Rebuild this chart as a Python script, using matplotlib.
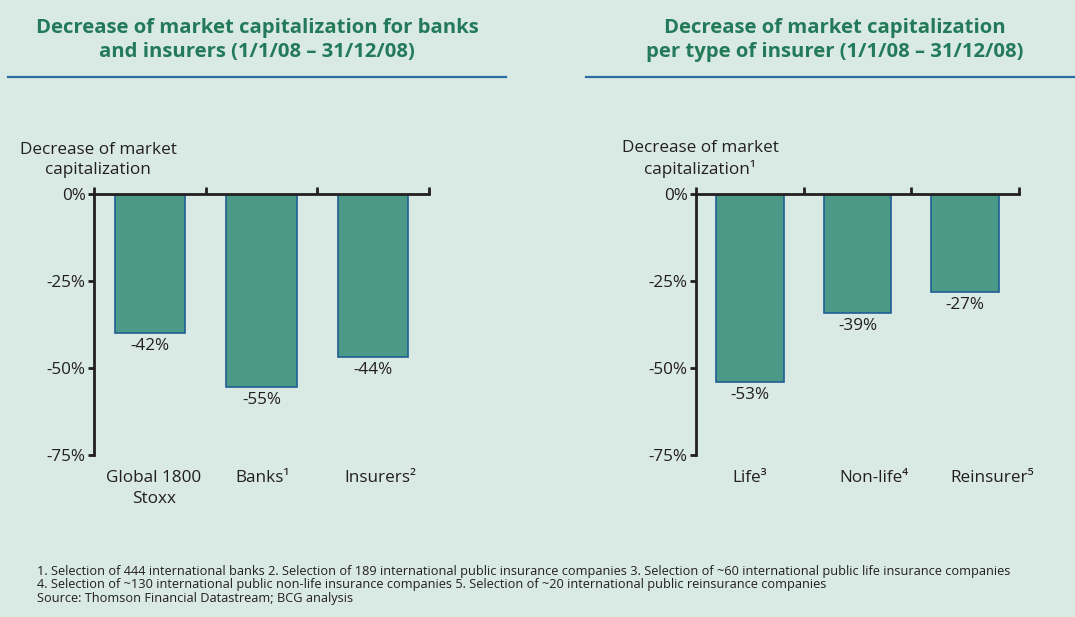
import matplotlib.pyplot as plt
import numpy as np

# data (bar lengths as drawn, labels as printed)
left_cats = ['Global 1800\nStoxx', 'Banks¹', 'Insurers²']
left_bars = [-39.9, -55.6, -46.8]
left_labels = [-42, -55, -44]

right_cats = ['Life³', 'Non-life⁴', 'Reinsurer⁵']
right_bars = [-54.0, -34.1, -28.1]
right_labels = [-53, -39, -27]

y_ticks = [0, -25, -50, -75]

BG = '#d9e9e3'
GREEN = '#237a5a'
BAR = '#4a9a87'
EDGE = '#1f5f94'
INK = '#231f20'
LINE = '#2b6ca3'
FONT = ['Open Sans', 'DejaVu Sans']
FS = 12.3

plt.rcParams['font.family'] = FONT
plt.rcParams['text.color'] = INK

W, H = 1075, 617
fig = plt.figure(figsize=(W / 100, H / 100), dpi=100, facecolor=BG)


def fx(x):
    return x / W


def fy(y):
    return 1 - y / H


def panel(x0, x1, cats, bars, labels, label_dx, ylabel, ylabel_x, title, title_x, line_x0, line_x1):
    ax = fig.add_axes([fx(x0), fy(455), fx(x1 - x0), (455 - 194) / H])
    ax.set_facecolor(BG)
    x = np.arange(len(cats))
    ax.bar(x, bars, width=0.63, color=BAR, edgecolor=EDGE, linewidth=1.2, zorder=2)
    ax.set_xlim(-0.5, len(cats) - 0.5)
    ax.set_ylim(-75, 0)
    for s in ['bottom', 'right']:
        ax.spines[s].set_visible(False)
    for s in ['left', 'top']:
        ax.spines[s].set_linewidth(2.0)
        ax.spines[s].set_color(INK)
        ax.spines[s].set_zorder(3)
    ax.set_yticks(y_ticks)
    ax.set_yticklabels([f'{v}%' for v in y_ticks], fontsize=FS, color=INK)
    ax.tick_params(axis='y', direction='out', length=4, width=2, color=INK, pad=2)
    ax.xaxis.set_ticks_position('top')
    ax.set_xticks(np.arange(len(cats) + 1) - 0.5)
    ax.set_xticklabels([])
    ax.tick_params(axis='x', direction='out', length=5, width=2, color=INK)

    for i, (b, lab) in enumerate(zip(bars, labels)):
        ax.annotate(f'{lab}%', xy=(i, b), xytext=(0, -3.5), textcoords='offset points',
                    ha='center', va='top', fontsize=FS, color=INK)
    for i, (c, dx) in enumerate(zip(cats, label_dx)):
        ax.annotate(c, xy=(i, 0), xycoords=('data', 'axes fraction'),
                    xytext=(dx, -11), textcoords='offset points',
                    ha='center', va='top', fontsize=FS, color=INK, linespacing=1.42,
                    annotation_clip=False)

    fig.text(fx(ylabel_x), fy(174), ylabel, ha='center', va='baseline',
             fontsize=FS, color=INK, linespacing=1.3)
    fig.text(fx(title_x), fy(62), title, ha='center', va='bottom',
             fontsize=14.6, fontweight='bold', color=GREEN, linespacing=1.25)
    fig.add_artist(plt.Line2D([fx(line_x0), fx(line_x1)], [fy(77), fy(77)],
                              color=LINE, linewidth=1.6, transform=fig.transFigure))
    return ax


panel(94, 429, left_cats, left_bars, left_labels, [3, 1, 5],
      'Decrease of market\ncapitalization', 98,
      'Decrease of market capitalization for banks\nand insurers (1/1/08 – 31/12/08)', 257,
      8, 506)

panel(696, 1019, right_cats, right_bars, right_labels, [0, 12, 19.5],
      'Decrease of market\ncapitalization¹', 700,
      'Decrease of market capitalization\nper type of insurer (1/1/08 – 31/12/08)', 835,
      586, 1075)

foot = ('1. Selection of 444 international banks 2. Selection of 189 international public insurance companies '
        '3. Selection of ~60 international public life insurance companies\n'
        '4. Selection of ~130 international public non-life insurance companies '
        '5. Selection of ~20 international public reinsurance companies\n'
        'Source: Thomson Financial Datastream; BCG analysis')
fig.text(fx(37), fy(605), foot, ha='left', va='bottom', fontsize=9.2, color=INK, linespacing=1.07)

fig.savefig('out.png', dpi=100, facecolor=BG)
